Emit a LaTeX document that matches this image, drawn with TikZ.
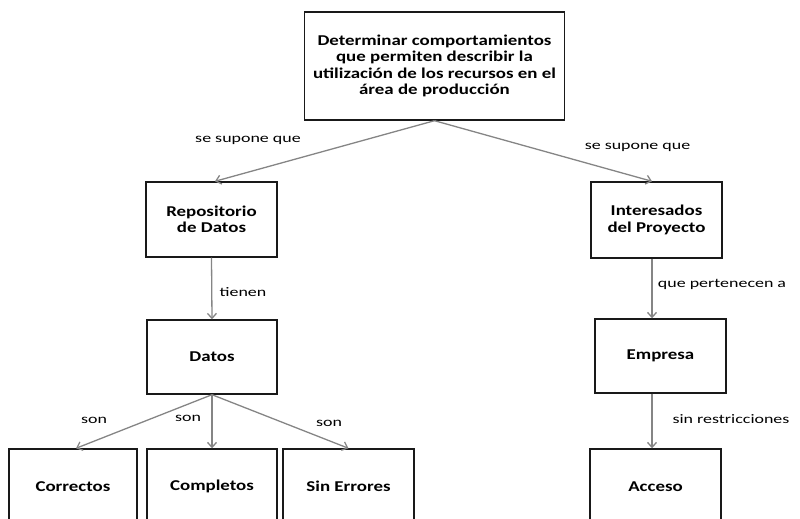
\documentclass[tikz,border=0pt]{standalone}
\usepackage{fontspec}
\setmainfont{Carlito}
\newfontfamily\boxfont[FakeStretch=1.26]{Carlito}
\newfontfamily\lblfont[FakeStretch=1.38]{Carlito}
\usetikzlibrary{arrows.meta}
\definecolor{arrgray}{HTML}{858585}
\begin{document}
\begin{tikzpicture}[x=1pt,y=-1pt,
  box/.style={draw=black!90,line width=1.4pt,rectangle,align=center,inner sep=2pt,font=\boxfont\fontsize{15}{16.2}\selectfont\bfseries},
  conn/.style={draw=arrgray,line width=1.3pt,-{Straight Barb[length=5pt,width=9pt]}},
  lbl/.style={font=\lblfont\fontsize{13}{14}\selectfont,inner sep=0pt}]
\useasboundingbox (0,0) rectangle (800,519);
\node[box,minimum width=260pt,minimum height=108pt] (top) at (434.5,66) {Determinar comportamientos\\que permiten describir la\\utilización de los recursos en el\\área de producción};
\node[box,minimum width=131pt,minimum height=75pt] (rep) at (211.5,219.5) {Repositorio\\de Datos};
\node[box,minimum width=131pt,minimum height=76pt] (int) at (656.5,220) {Interesados\\del Proyecto};
\node[box,minimum width=130pt,minimum height=74pt] (dat) at (212,357) {Datos};
\node[box,minimum width=131pt,minimum height=74pt] (emp) at (660.5,356) {Empresa};
\node[box,minimum width=128pt,minimum height=75pt] (cor) at (73,486.5) {Correctos};
\node[box,minimum width=130pt,minimum height=75pt] (com) at (212,486.5) {Completos};
\node[box,minimum width=131pt,minimum height=75pt] (sin) at (348.5,486.5) {Sin Errores};
\node[box,minimum width=131pt,minimum height=75pt] (acc) at (655.5,486.5) {Acceso};
\draw[conn] (top.south) -- ([xshift=3.5pt]rep.north);
\draw[conn] (top.south) -- ([xshift=-4.5pt]int.north);
\draw[conn] (rep.south) -- (dat.north);
\draw[conn] ([xshift=-4.5pt]int.south) -- ([xshift=-8.5pt]emp.north);
\draw[conn] ([xshift=-8.5pt]emp.south) -- ([xshift=-3.5pt]acc.north);
\draw[conn] (dat.south) -- ([xshift=3pt]cor.north);
\draw[conn] (dat.south) -- (com.north);
\draw[conn] (dat.south) -- (sin.north);
\node[lbl] (l1) at (248,140) {se supone que};
\node[lbl] (l2) at (637.5,147) {se supone que};
\node[lbl] (l3) at (243,292) {tienen};
\node[lbl] (l4) at (722,284) {que pertenecen a};
\node[lbl] (l5) at (731,419) {sin restricciones};
\node[lbl] (l6) at (94,420) {son};
\node[lbl] (l7) at (188,418) {son};
\node[lbl] (l8) at (329,423) {son};
\end{tikzpicture}
\end{document}
